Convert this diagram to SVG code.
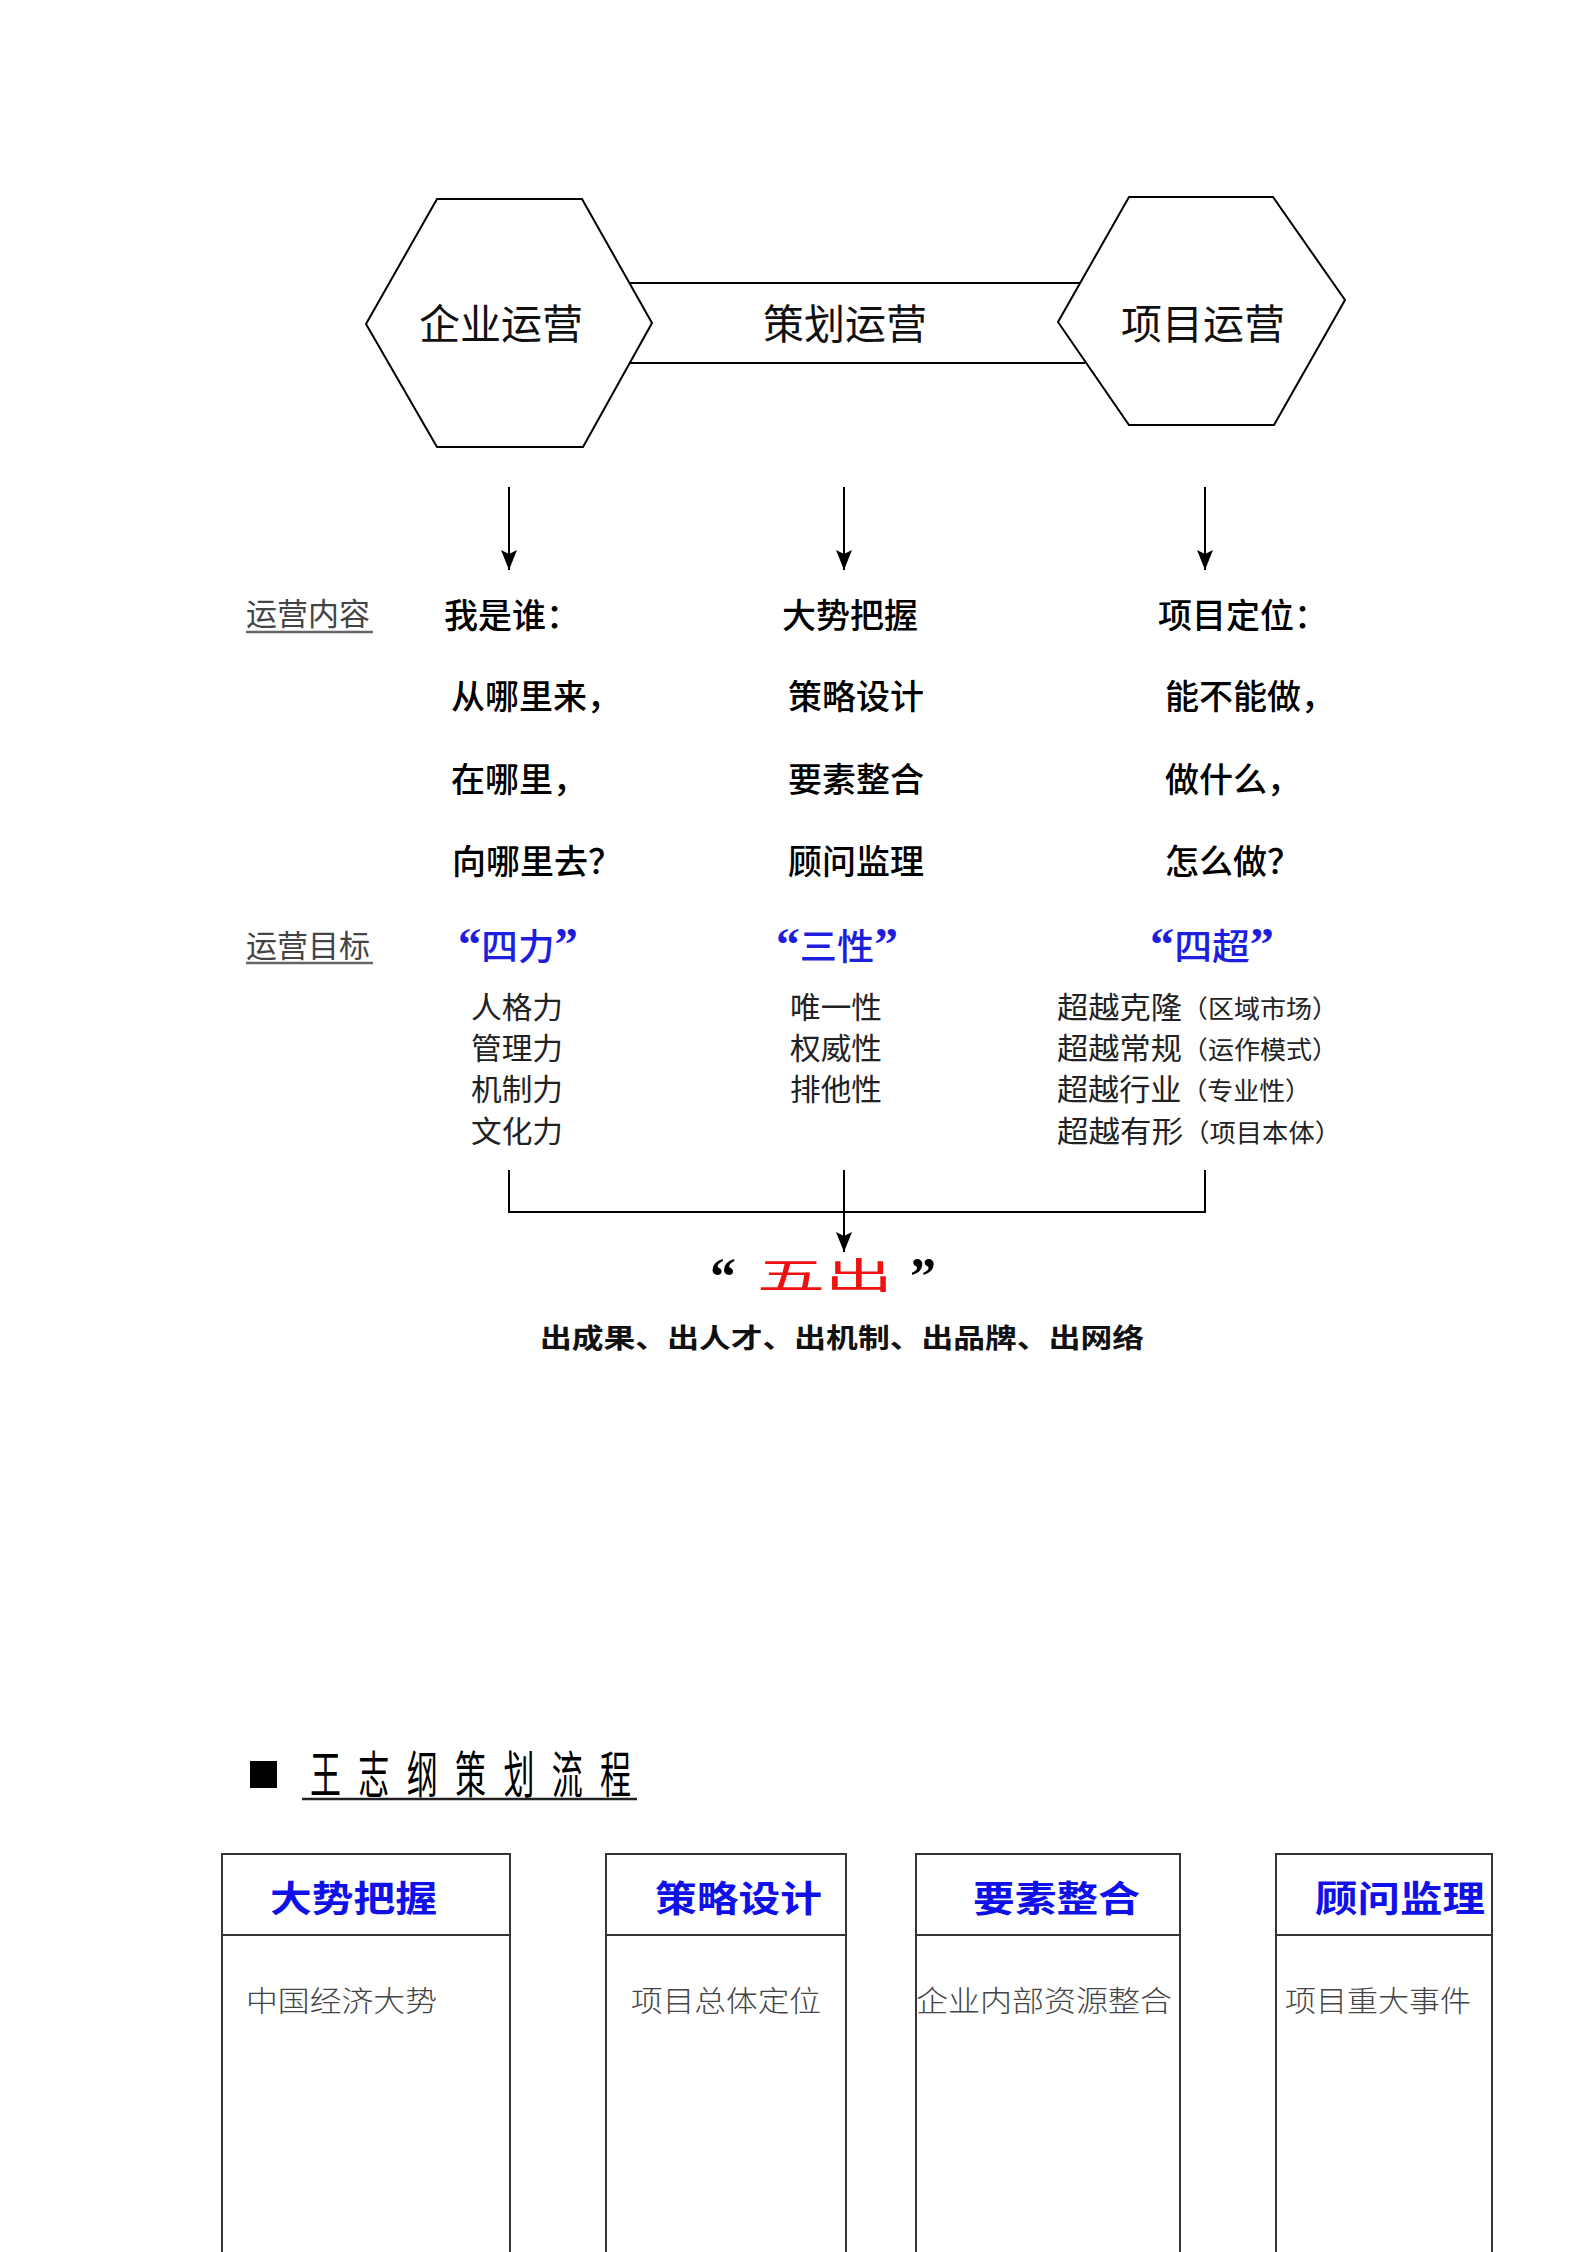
<svg xmlns="http://www.w3.org/2000/svg" width="1594" height="2252" viewBox="0 0 1594 2252">
<style>
  .hex{fill:#fff;stroke:#000;stroke-width:2}
  .ln{stroke:#000;stroke-width:2;fill:none}
  .box{fill:none;stroke:#333;stroke-width:2}
  text{font-family:"Noto Sans CJK SC",sans-serif}
  .hl{font-size:41px;fill:#111;text-anchor:middle}
  .ct{font-size:34px;font-weight:500;fill:#000}
  .side{font-size:31px;fill:#444}
  .goal{font-family:"Liberation Serif","Noto Sans CJK SC",serif;font-size:36px;fill:#1e1ee0;font-weight:500}
  .q{font-size:46px;font-weight:700}
  .item{font-size:30px;fill:#222}
  .paren{font-size:25px}
  .head{font-size:36px;font-weight:700;fill:#1010e8}
  .cell{font-size:29px;fill:#444;font-weight:300}
  .ul{stroke:#666;stroke-width:2.5}
</style>
<defs>
  <marker id="ah" markerUnits="userSpaceOnUse" markerWidth="22" markerHeight="18" viewBox="0 -9 22 18" refX="20" refY="0" orient="auto">
    <path d="M0,-8 L20,0 L0,8 L4,0 Z" fill="#000"/>
  </marker>
</defs>

<g id="connectors">
  <line class="ln" x1="629" y1="283" x2="1080" y2="283"/>
  <line class="ln" x1="630" y1="363" x2="1085" y2="363"/>
  <line class="ln" x1="509" y1="487" x2="509" y2="570" marker-end="url(#ah)"/>
  <line class="ln" x1="844" y1="487" x2="844" y2="570" marker-end="url(#ah)"/>
  <line class="ln" x1="1205" y1="487" x2="1205" y2="570" marker-end="url(#ah)"/>
  <polyline class="ln" points="509,1170 509,1212 1205,1212 1205,1170"/>
  <line class="ln" x1="844" y1="1170" x2="844" y2="1252" marker-end="url(#ah)"/>
</g>

<g id="node-qiye">
  <polygon class="hex" points="437,199 582,199 652,323 583,447 437,447 366,324"/>
  <text class="hl" x="501" y="339">企业运营</text>
</g>
<g id="node-cehua">
  <text class="hl" x="845" y="339">策划运营</text>
</g>
<g id="node-xiangmu">
  <polygon class="hex" points="1129,197 1273,197 1345,300 1274,425 1129,425 1058,322"/>
  <text class="hl" x="1203" y="339">项目运营</text>
</g>

<g id="label-content">
  <text class="side" x="246" y="625">运营内容</text>
  <line class="ul" x1="246" y1="632" x2="373" y2="632"/>
</g>
<g id="col1-content">
  <text class="ct" x="444" y="628">我是谁：</text>
  <text class="ct" x="451" y="709">从哪里来，</text>
  <text class="ct" x="451" y="792">在哪里，</text>
  <text class="ct" x="452" y="874">向哪里去？</text>
</g>
<g id="col2-content">
  <text class="ct" x="782" y="628">大势把握</text>
  <text class="ct" x="788" y="709">策略设计</text>
  <text class="ct" x="788" y="792">要素整合</text>
  <text class="ct" x="788" y="874">顾问监理</text>
</g>
<g id="col3-content">
  <text class="ct" x="1158" y="628">项目定位：</text>
  <text class="ct" x="1165" y="709">能不能做，</text>
  <text class="ct" x="1165" y="792">做什么，</text>
  <text class="ct" x="1165" y="874">怎么做？</text>
</g>

<g id="label-goal">
  <text class="side" x="246" y="957">运营目标</text>
  <line class="ul" x1="246" y1="963" x2="373" y2="963"/>
</g>
<g id="col1-goal">
  <text class="goal" x="458" y="960" textLength="120" lengthAdjust="spacingAndGlyphs"><tspan class="q">“</tspan>四力<tspan class="q">”</tspan></text>
  <text class="item" x="471" y="1018" textLength="92" lengthAdjust="spacingAndGlyphs">人格力</text>
  <text class="item" x="471" y="1059" textLength="92" lengthAdjust="spacingAndGlyphs">管理力</text>
  <text class="item" x="471" y="1100" textLength="92" lengthAdjust="spacingAndGlyphs">机制力</text>
  <text class="item" x="471" y="1142" textLength="92" lengthAdjust="spacingAndGlyphs">文化力</text>
</g>
<g id="col2-goal">
  <text class="goal" x="776" y="960" textLength="122" lengthAdjust="spacingAndGlyphs"><tspan class="q">“</tspan>三性<tspan class="q">”</tspan></text>
  <text class="item" x="790" y="1018" textLength="92" lengthAdjust="spacingAndGlyphs">唯一性</text>
  <text class="item" x="790" y="1059" textLength="92" lengthAdjust="spacingAndGlyphs">权威性</text>
  <text class="item" x="790" y="1100" textLength="92" lengthAdjust="spacingAndGlyphs">排他性</text>
</g>
<g id="col3-goal">
  <text class="goal" x="1150" y="960" textLength="124" lengthAdjust="spacingAndGlyphs"><tspan class="q">“</tspan>四超<tspan class="q">”</tspan></text>
  <text class="item" x="1057" y="1018" textLength="281" lengthAdjust="spacingAndGlyphs">超越克隆<tspan class="paren">（区域市场）</tspan></text>
  <text class="item" x="1057" y="1059" textLength="281" lengthAdjust="spacingAndGlyphs">超越常规<tspan class="paren">（运作模式）</tspan></text>
  <text class="item" x="1057" y="1100" textLength="254" lengthAdjust="spacingAndGlyphs">超越行业<tspan class="paren">（专业性）</tspan></text>
  <text class="item" x="1057" y="1142" textLength="284" lengthAdjust="spacingAndGlyphs">超越有形<tspan class="paren">（项目本体）</tspan></text>
</g>

<g id="node-wuchu">
  <text x="710" y="1294" style="font-family:'Liberation Serif',serif;font-weight:700;font-size:52px;fill:#000">“</text>
  <text x="757" y="1289" textLength="136" lengthAdjust="spacingAndGlyphs" style="font-size:36px;fill:#f01010">五出</text>
  <text x="910" y="1294" style="font-family:'Liberation Serif',serif;font-weight:700;font-size:52px;fill:#000">”</text>
  <text x="540" y="1348" textLength="604" lengthAdjust="spacingAndGlyphs" style="font-size:27px;font-weight:600;fill:#111">出成果、出人才、出机制、出品牌、出网络</text>
</g>

<g id="title">
  <rect x="250" y="1761" width="27" height="27" fill="#000"/>
  <g transform="translate(310,1793) scale(0.62,1)">
    <text x="0" y="0" style="font-size:50px;fill:#000;letter-spacing:28px">王志纲策划流程</text>
  </g>
  <line x1="302" y1="1799" x2="637" y2="1799" stroke="#222" stroke-width="2.5"/>
</g>

<g id="box-dashi">
  <rect class="box" x="222" y="1854" width="288" height="420"/>
  <line class="box" x1="222" y1="1935" x2="510" y2="1935"/>
  <text class="head" x="270" y="1912" textLength="167" lengthAdjust="spacingAndGlyphs">大势把握</text>
  <text class="cell" x="246" y="2012" textLength="191" lengthAdjust="spacingAndGlyphs">中国经济大势</text>
</g>
<g id="box-celue">
  <rect class="box" x="606" y="1854" width="240" height="420"/>
  <line class="box" x1="606" y1="1935" x2="846" y2="1935"/>
  <text class="head" x="655" y="1912" textLength="167" lengthAdjust="spacingAndGlyphs">策略设计</text>
  <text class="cell" x="631" y="2012" textLength="190" lengthAdjust="spacingAndGlyphs">项目总体定位</text>
</g>
<g id="box-yaosu">
  <rect class="box" x="916" y="1854" width="264" height="420"/>
  <line class="box" x1="916" y1="1935" x2="1180" y2="1935"/>
  <text class="head" x="973" y="1912" textLength="167" lengthAdjust="spacingAndGlyphs">要素整合</text>
  <text class="cell" x="916" y="2012" textLength="256" lengthAdjust="spacingAndGlyphs">企业内部资源整合</text>
</g>
<g id="box-guwen">
  <rect class="box" x="1276" y="1854" width="216" height="420"/>
  <line class="box" x1="1276" y1="1935" x2="1492" y2="1935"/>
  <text class="head" x="1315" y="1912" textLength="170" lengthAdjust="spacingAndGlyphs">顾问监理</text>
  <text class="cell" x="1285" y="2012" textLength="186" lengthAdjust="spacingAndGlyphs">项目重大事件</text>
</g>
</svg>
